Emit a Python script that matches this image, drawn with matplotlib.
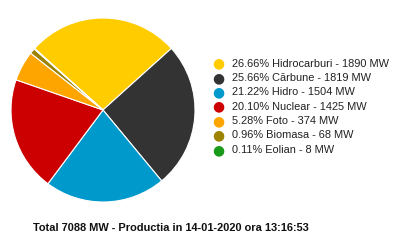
import matplotlib
matplotlib.use("Agg")
import matplotlib.pyplot as plt

plt.rcParams['font.family'] = ['Liberation Sans', 'DejaVu Sans']

# productie pe surse, MW
labels = ['Hidrocarburi', 'Cărbune', 'Hidro', 'Nuclear', 'Foto', 'Biomasa', 'Eolian']
mw = [1890, 1819, 1504, 1425, 374, 68, 8]
procente = [26.66, 25.66, 21.22, 20.10, 5.28, 0.96, 0.11]
culori = ['#ffcc00', '#333333', '#0099cc', '#cc0000', '#ffa500', '#9c8300', '#1a9a1a']
total = 7088
titlu = 'Total 7088 MW - Productia in 14-01-2020 ora 13:16:53'

fig = plt.figure(figsize=(4.0, 2.42), dpi=100)

# pie: centru ~ (103,110) px, raza ~92 px
ax = fig.add_axes([(103 - 92) / 400, 1 - (110 + 92) / 242, 184 / 400, 184 / 242])
ax.pie(mw, colors=culori, startangle=138, counterclock=False,
       wedgeprops=dict(edgecolor='white', linewidth=0.8))
ax.set_xlim(-1, 1)
ax.set_ylim(-1, 1)
ax.set_aspect('equal')
ax.axis('off')

# legenda
y0 = 63.5
dy = 14.4
for i in range(len(labels)):
    y = 1 - (y0 + i * dy) / 242
    fig.text(218 / 400, y, '\u25CF', color=culori[i], fontsize=10,
             ha='center', va='center', family='DejaVu Sans')
    fig.text(232 / 400, y, '%.2f%% %s - %d MW' % (procente[i], labels[i], mw[i]),
             fontsize=7.9, color='#222222', ha='left', va='center')

fig.text(171 / 400, 1 - 228 / 242, titlu, fontsize=7.9, fontweight='bold',
         ha='center', va='center', color='#111111')

fig.savefig('out.png', dpi=100)
